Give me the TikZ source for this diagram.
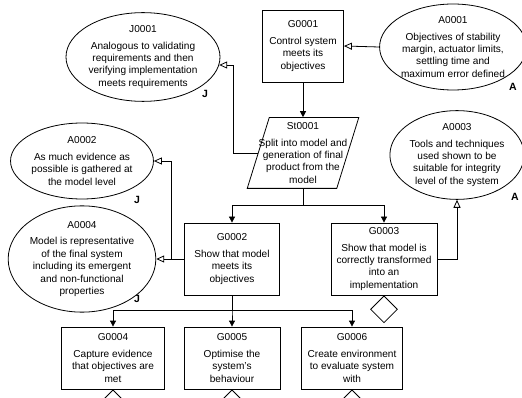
\documentclass[tikz,border=0pt]{standalone}
\usepackage{fontspec}
\setmainfont{Liberation Sans}
\usetikzlibrary{shapes.geometric,arrows.meta}

\begin{document}
\begin{tikzpicture}[x=1pt,y=-1pt,line width=0.8pt,
  font=\fontsize{10.1}{12.4}\selectfont,
  goal/.style={draw,rectangle,align=center,inner sep=1pt,minimum height=72pt},
  ctx/.style={draw,ellipse,align=center,inner sep=0pt},
  strat/.style={rectangle,align=center,inner sep=0pt,minimum width=86pt,minimum height=70pt},
  undev/.style={draw,diamond,minimum width=27pt,minimum height=27pt,inner sep=0pt,anchor=north},
  tag/.style={font=\bfseries\fontsize{10.5}{12}\selectfont},
  solved/.style={-{Triangle[length=6pt,width=6pt]}},
  incontext/.style={-{Triangle[open,length=8pt,width=7pt]}}]
\clip (0,0) rectangle (522,398);
% goals, strategy and context
\node[goal,minimum width=81pt] (g1) at (303,46) {G0001\\[4pt]Control system\\meets its\\objectives};
\node[ctx,minimum width=130pt,minimum height=86pt] (a1) at (453,47) {A0001\\[4pt]Objectives of stability\\margin, actuator limits,\\settling time and\\maximum error defined};
\node[ctx,minimum width=150pt,minimum height=84pt] (j1) at (143,57) {J0001\\[4pt]Analogous to validating\\requirements and then\\verifying implementation\\meets requirements};
\node[strat] (s1) at (303,153) {St0001\\[4pt]Split into model and\\generation of final\\product from the\\model};
\draw ([xshift=11pt]s1.north west) -- ([xshift=11pt]s1.north east)
  -- ([xshift=-11pt]s1.south east) -- ([xshift=-11pt]s1.south west) -- cycle;
\node[ctx,minimum width=134pt,minimum height=76pt] (a2) at (82,161) {A0002\\[4pt]As much evidence as\\possible is gathered at\\the model level};
\node[ctx,minimum width=124pt,minimum height=88pt] (a3) at (457,155) {A0003\\[4pt]Tools and techniques\\used shown to be\\suitable for integrity\\level of the system};
\node[ctx,minimum width=140pt,minimum height=92pt] (a4) at (82,259) {A0004\\[4pt]Model is representative\\of the final system\\including its emergent\\and non-functional\\properties};
\node[goal,minimum width=95pt] (g2) at (232,259) {G0002\\[4pt]Show that model\\meets its\\objectives};
\node[goal,minimum width=106pt] (g3) at (384,259) {G0003\\[4pt]Show that model is\\correctly transformed\\into an\\implementation};
\node[goal,minimum width=103pt,minimum height=62pt] (g4) at (113,358) {G0004\\[4pt]Capture evidence\\that objectives are\\met};
\node[goal,minimum width=96pt,minimum height=62pt] (g5) at (232,358) {G0005\\[4pt]Optimise the\\system's\\behaviour};
\node[goal,minimum width=101pt,minimum height=62pt] (g6) at (352,358) {G0006\\[4pt]Create environment\\to evaluate system\\with};
% undeveloped goals
\node[undev] (u3) at (g3.south) {};
\foreach \g in {g4,g5,g6}{
    \node[undev] (u\g) at (\g.south) {};
}
% A and J tags
\node[tag] (t1) at (513,87) {A};
\node[tag] (t2) at (205,94) {J};
\node[tag] (t3) at (137,200) {J};
\node[tag] (t4) at (515,197) {A};
\node[tag] (t5) at (137,299) {J};
% connectors
\draw[solved] (g1.south) -- ([yshift=0.4pt]s1.north);
\draw[incontext] (a1.west) -- (g1.east);
\draw[incontext] (s1.west) -- ++(-25,0) |- (j1.-6);
\draw[solved] ([yshift=-0.4pt]s1.south) -- ++(0,17) -| (g2.north);
\draw[solved] ([yshift=-0.4pt]s1.south) -- ++(0,17) -| (g3.north);
\draw[incontext] (g2.west) -- (a4.east);
\draw[incontext] (g2.west) -- ++(-13,0) |- (a2.east);
\draw[incontext] (g3.east) -| (a3.south);
\foreach \g in {g4,g5,g6}{
    \draw[solved] (g2.south) -- ++(0,15) -| (\g.north);
}
\end{tikzpicture}
\end{document}
